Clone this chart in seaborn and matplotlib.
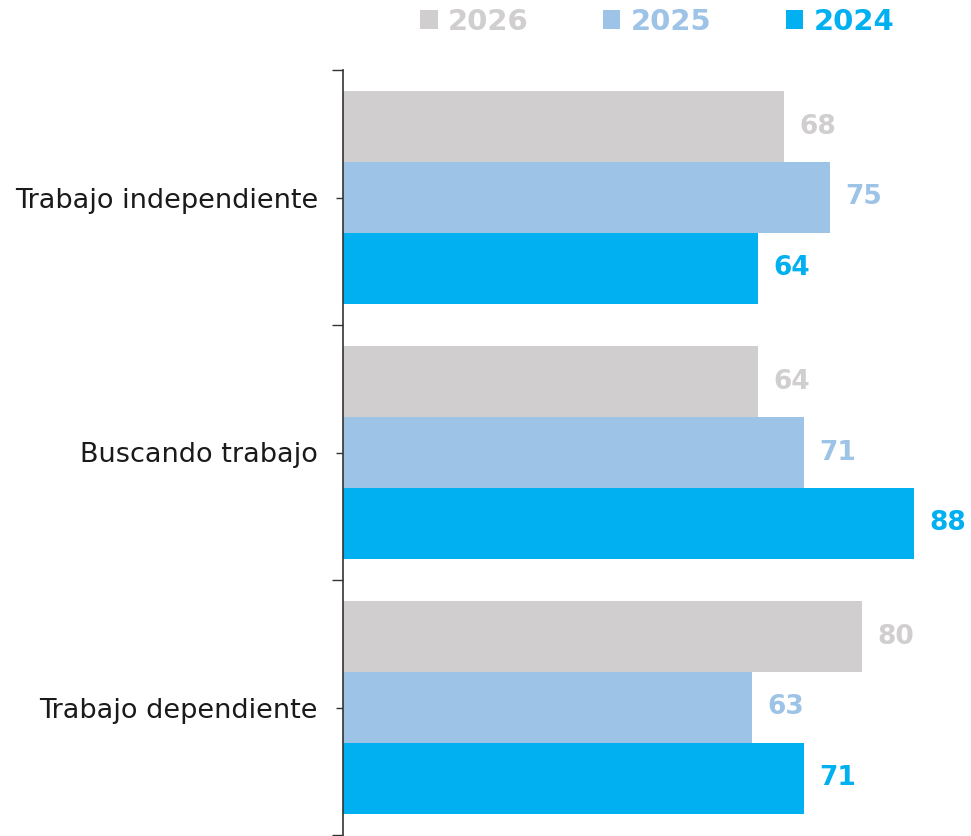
import matplotlib
matplotlib.use("Agg")
import matplotlib.pyplot as plt
import seaborn as sns
import pandas as pd
from matplotlib.patches import Patch

categories = ["Trabajo independiente", "Buscando trabajo", "Trabajo dependiente"]
years = ["2026", "2025", "2024"]
values_2026 = [68, 64, 80]
values_2025 = [75, 71, 63]
values_2024 = [64, 88, 71]
colors = {"2026": "#D0CECF", "2025": "#9DC3E6", "2024": "#00B0F0"}

rows = []
for yr, vals in zip(years, [values_2026, values_2025, values_2024]):
    for c, v in zip(categories, vals):
        rows.append({"cat": c, "year": yr, "value": v})
df = pd.DataFrame(rows)

sns.set_theme(style="white")
plt.rcParams["font.family"] = ["DejaVu Sans"]

fig = plt.figure(figsize=(9.71, 8.36), dpi=100)
ax = fig.add_axes([343 / 971, 1 - 835 / 836, (960 - 343) / 971, (835 - 70) / 836])

sns.barplot(data=df, y="cat", x="value", hue="year", hue_order=years,
            order=categories, palette=colors, orient="h", width=0.835,
            saturation=1, linewidth=0, ax=ax, legend=False)

ax.set_xlim(0, (960 - 343) / 6.49)
ax.set_ylim(2.5, -0.5)

for cont, yr in zip(ax.containers, years):
    ax.bar_label(cont, padding=11, color=colors[yr], fontweight="bold", fontsize=19)

ax.set_xlabel("")
ax.set_ylabel("")
ax.set_xticks([])
ax.set_yticks(range(len(categories)))
ax.set_yticklabels(categories, fontsize=19.5, color="#1a1a1a")
ax.set_yticks([-0.5, 0.5, 1.5, 2.5], minor=True)
ax.tick_params(axis="y", which="major", length=5, width=1, color="#333333", pad=13, left=True)
ax.tick_params(axis="y", which="minor", length=8, width=1, color="#333333", left=True)

for s in ["top", "right", "bottom"]:
    ax.spines[s].set_visible(False)
ax.spines["left"].set_color("#333333")
ax.spines["left"].set_linewidth(1.2)

handles = [Patch(facecolor=colors[y], edgecolor="none") for y in years]
leg = fig.legend(handles, years, loc="center", bbox_to_anchor=(657 / 971, 1 - 22 / 836),
                 ncol=3, frameon=False, handlelength=0.6, handleheight=0.6,
                 handletextpad=0.35, columnspacing=2.55,
                 prop={"weight": "bold", "size": 21})
for t, y in zip(leg.get_texts(), years):
    t.set_color(colors[y])

fig.savefig("out.png", dpi=100)
